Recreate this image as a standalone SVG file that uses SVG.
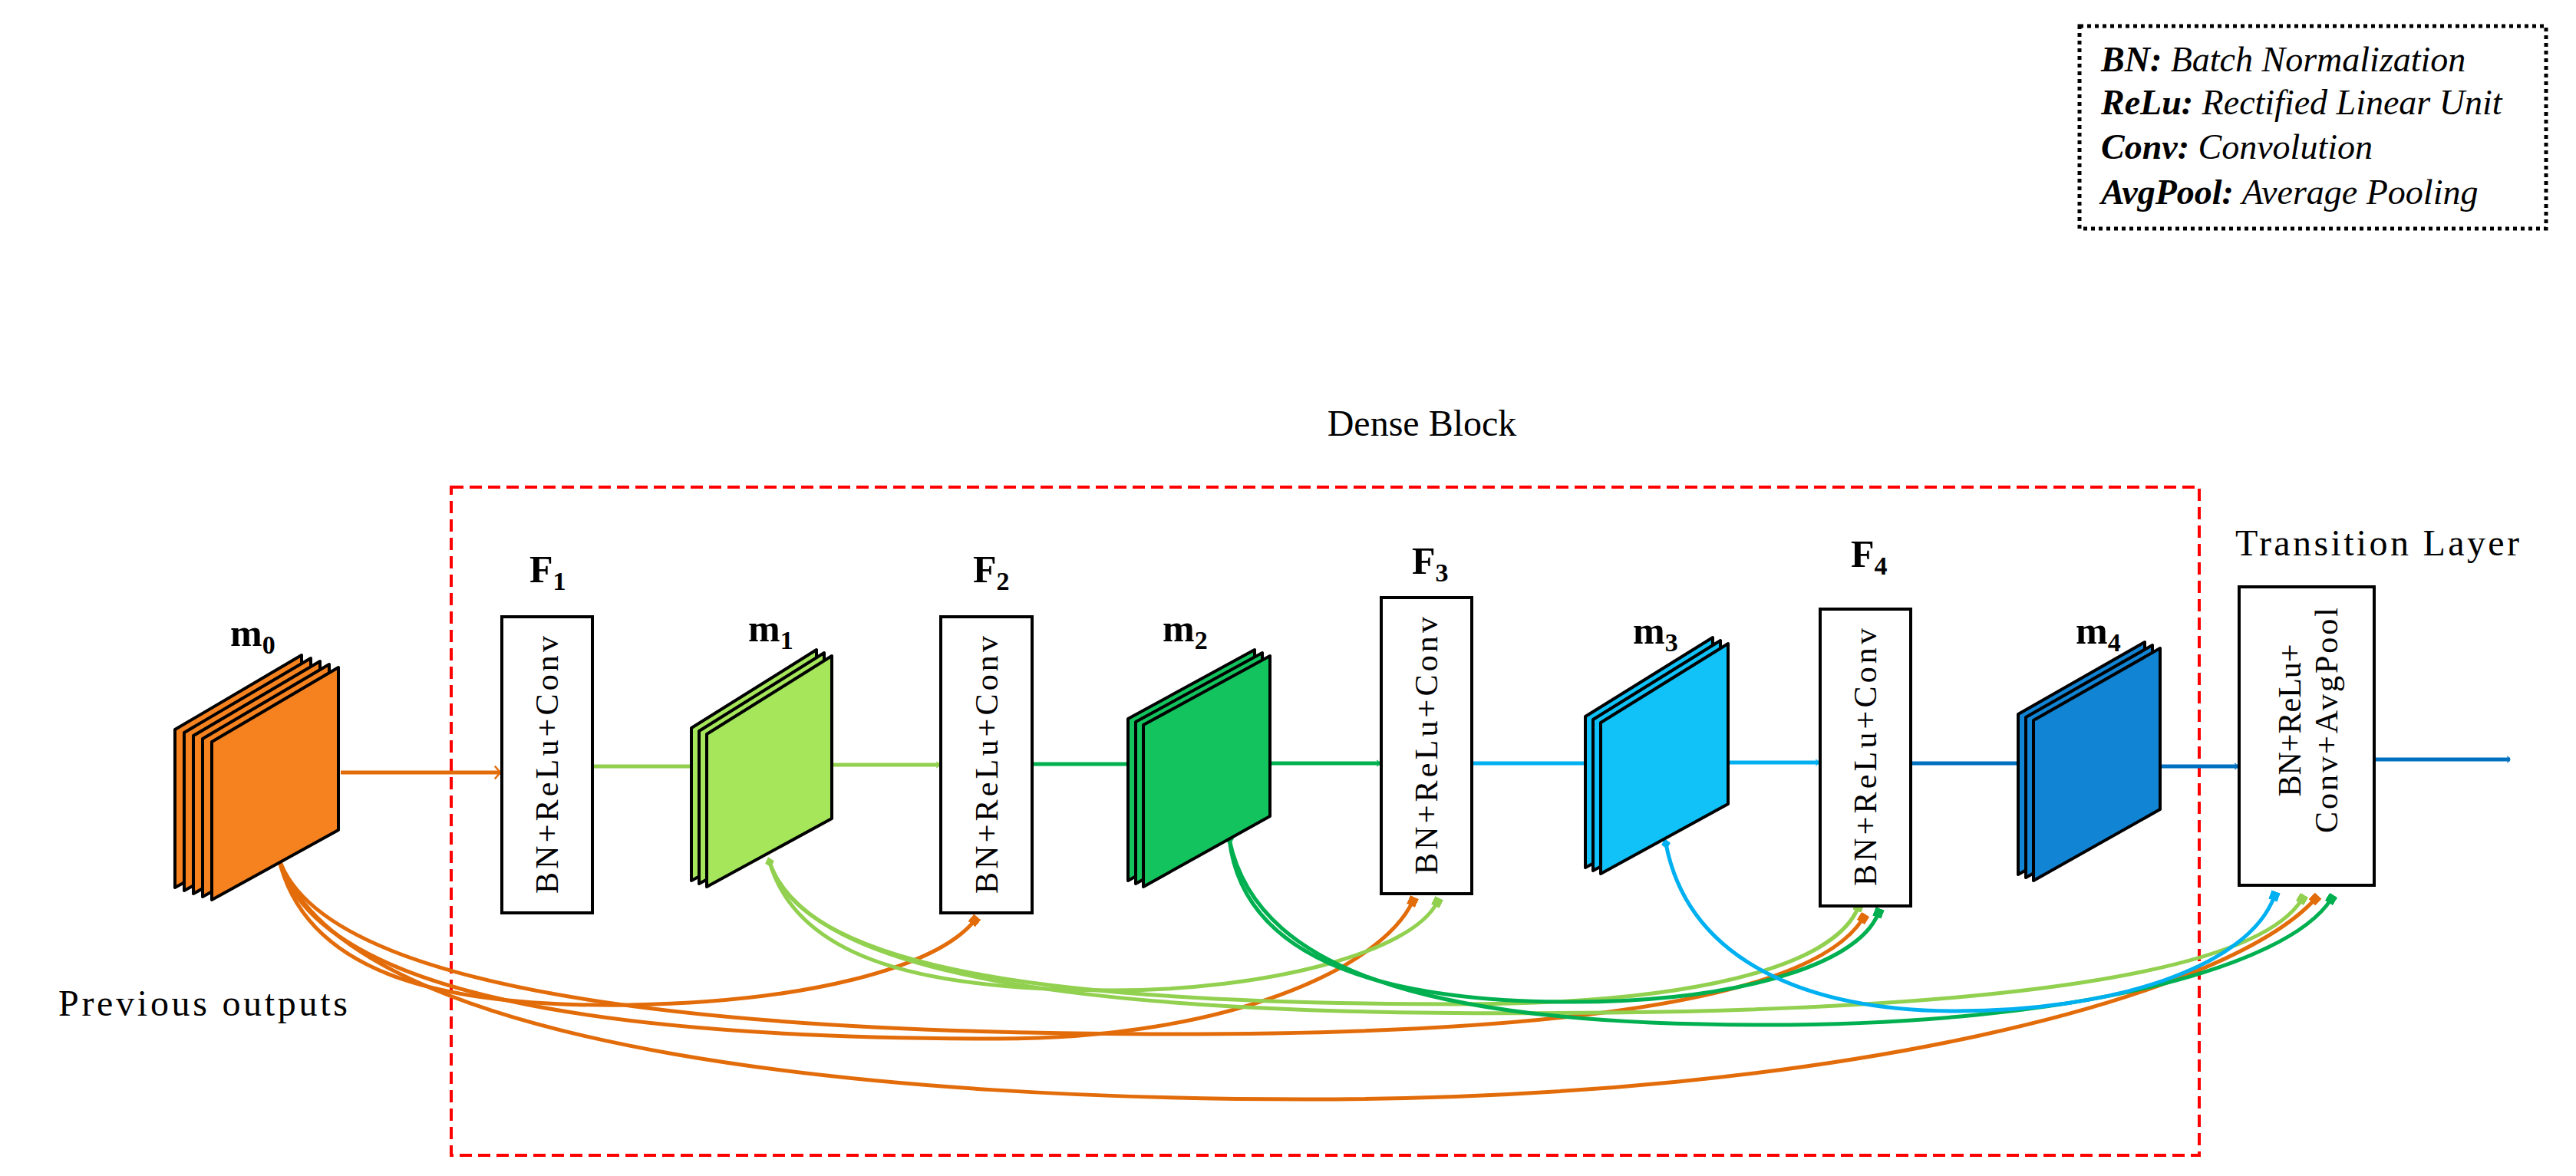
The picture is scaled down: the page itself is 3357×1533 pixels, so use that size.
<svg xmlns="http://www.w3.org/2000/svg" xmlns:xlink="http://www.w3.org/1999/xlink" width="3357" height="1533" viewBox="0 0 3357 1533">
<style>
.lbl{font-family:"Liberation Serif",serif;font-weight:bold;font-size:50px;fill:#000}
.txt{font-family:"Liberation Serif",serif;font-size:48px;fill:#000}
.box{fill:#fff;stroke:#000;stroke-width:4}
.btxt{font-family:"Liberation Serif",serif;font-size:42px;fill:#000}
.plate{stroke:#000;stroke-width:4;stroke-linejoin:round}
.c{fill:none;stroke-width:5}
.leg{font-family:"Liberation Serif",serif;font-style:italic;font-size:46px;fill:#000}
</style>
<defs>
<marker id="ao" viewBox="0 0 10 10" refX="9" refY="5" markerWidth="6" markerHeight="6" orient="auto" markerUnits="userSpaceOnUse" style="overflow:visible"><path d="M-12,-14 L0,0 L-12,14" transform="translate(9,5)" fill="none" stroke="#E36C0A" stroke-width="4"/></marker>
<marker id="alg" viewBox="0 0 10 10" refX="9" refY="5" markerUnits="userSpaceOnUse" orient="auto" style="overflow:visible"><path d="M-12,-14 L0,0 L-12,14" transform="translate(9,5)" fill="none" stroke="#92D050" stroke-width="4"/></marker>
<marker id="ag" viewBox="0 0 10 10" refX="9" refY="5" markerUnits="userSpaceOnUse" orient="auto" style="overflow:visible"><path d="M-12,-14 L0,0 L-12,14" transform="translate(9,5)" fill="none" stroke="#00B050" stroke-width="4"/></marker>
<marker id="ac" viewBox="0 0 10 10" refX="9" refY="5" markerUnits="userSpaceOnUse" orient="auto" style="overflow:visible"><path d="M-12,-14 L0,0 L-12,14" transform="translate(9,5)" fill="none" stroke="#00B0F0" stroke-width="4"/></marker>
<marker id="ab" viewBox="0 0 10 10" refX="9" refY="5" markerUnits="userSpaceOnUse" orient="auto" style="overflow:visible"><path d="M-12,-14 L0,0 L-12,14" transform="translate(9,5)" fill="none" stroke="#0070C0" stroke-width="4"/></marker>
<marker id="so" viewBox="-6 -6 12 12" markerWidth="12" markerHeight="12" markerUnits="userSpaceOnUse" orient="auto"><rect x="-6" y="-6" width="12" height="12" fill="#E36C0A"/></marker>
<marker id="slg" viewBox="-6 -6 12 12" markerWidth="12" markerHeight="12" markerUnits="userSpaceOnUse" orient="auto"><rect x="-6" y="-6" width="12" height="12" fill="#92D050"/></marker>
<marker id="sg" viewBox="-6 -6 12 12" markerWidth="12" markerHeight="12" markerUnits="userSpaceOnUse" orient="auto"><rect x="-6" y="-6" width="12" height="12" fill="#00B050"/></marker>
<marker id="sc" viewBox="-6 -6 12 12" markerWidth="12" markerHeight="12" markerUnits="userSpaceOnUse" orient="auto"><rect x="-6" y="-6" width="12" height="12" fill="#00B0F0"/></marker>
<marker id="do" viewBox="-7 -7 14 14" markerWidth="14" markerHeight="14" markerUnits="userSpaceOnUse" orient="auto"><path d="M-7,0 L0,-6 L7,0 L0,6Z" fill="#E36C0A"/></marker>
<marker id="dlg" viewBox="-7 -7 14 14" markerWidth="14" markerHeight="14" markerUnits="userSpaceOnUse" orient="auto"><path d="M-7,0 L0,-6 L7,0 L0,6Z" fill="#92D050"/></marker>
<marker id="dg" viewBox="-7 -7 14 14" markerWidth="14" markerHeight="14" markerUnits="userSpaceOnUse" orient="auto"><path d="M-7,0 L0,-6 L7,0 L0,6Z" fill="#00B050"/></marker>
<marker id="dc" viewBox="-7 -7 14 14" markerWidth="14" markerHeight="14" markerUnits="userSpaceOnUse" orient="auto"><path d="M-7,0 L0,-6 L7,0 L0,6Z" fill="#00B0F0"/></marker>
</defs>
<rect width="3357" height="1533" fill="#fff"/>

<g id="legend">
<rect x="2710" y="34" width="608" height="264" fill="none" stroke="#000" stroke-width="5" stroke-dasharray="5,5"/>
<text class="leg" x="2738" y="93"><tspan font-weight="bold">BN:</tspan> Batch Normalization</text>
<text class="leg" x="2738" y="149"><tspan font-weight="bold">ReLu:</tspan> Rectified Linear Unit</text>
<text class="leg" x="2738" y="207"><tspan font-weight="bold">Conv:</tspan> Convolution</text>
<text class="leg" x="2738" y="266"><tspan font-weight="bold">AvgPool:</tspan> Average Pooling</text>
</g>

<g id="dense-block">
<rect x="588" y="635" width="2278" height="871" fill="none" stroke="#FF0000" stroke-width="4" stroke-dasharray="16,8"/>
<text class="txt" x="1853" y="568" text-anchor="middle">Dense Block</text>
</g>

<g id="connectors">
<line x1="444" y1="1007" x2="652" y2="1007" class="c" stroke="#E36C0A" marker-end="url(#ao)"/>
<line x1="772" y1="999" x2="921" y2="999" class="c" stroke="#92D050"/>
<line x1="1084" y1="997" x2="1224" y2="997" class="c" stroke="#92D050" marker-end="url(#alg)"/>
<line x1="1345" y1="996" x2="1490" y2="996" class="c" stroke="#00B050"/>
<line x1="1655" y1="995" x2="1798" y2="995" class="c" stroke="#00B050" marker-end="url(#ag)"/>
<line x1="1918" y1="995" x2="2086" y2="995" class="c" stroke="#00B0F0"/>
<line x1="2252" y1="994" x2="2370" y2="994" class="c" stroke="#00B0F0" marker-end="url(#ac)"/>
<line x1="2490" y1="995" x2="2650" y2="995" class="c" stroke="#0070C0"/>
<line x1="2815" y1="999" x2="2916" y2="999" class="c" stroke="#0070C0" marker-end="url(#ab)"/>
<line x1="3094" y1="990" x2="3271" y2="990" class="c" stroke="#0070C0" marker-end="url(#ab)"/>

<path class="c" stroke="#E36C0A" marker-start="url(#do)" marker-end="url(#so)" d="M363,1118 C400,1280 600,1313 820,1310 C1050,1306 1220,1262 1270,1200"/>
<path class="c" stroke="#E36C0A" marker-end="url(#so)" d="M363,1118 C410,1300 800,1354 1300,1354 C1600,1354 1800,1262 1841,1175"/>
<path class="c" stroke="#E36C0A" marker-end="url(#so)" d="M363,1118 C420,1290 900,1346 1500,1348 C2100,1350 2370,1290 2428,1197"/>
<path class="c" stroke="#E36C0A" marker-end="url(#so)" d="M363,1118 C450,1380 1200,1433 1700,1433 C2400,1433 2900,1300 3017,1172"/>

<path class="c" stroke="#92D050" marker-start="url(#dlg)" marker-end="url(#slg)" d="M1003,1124 C1040,1250 1200,1291 1450,1291 C1650,1291 1840,1242 1873,1176"/>
<path class="c" stroke="#92D050" marker-end="url(#slg)" d="M1003,1124 C1050,1270 1400,1309 1900,1309 C2200,1309 2390,1262 2422,1182"/>
<path class="c" stroke="#92D050" marker-end="url(#slg)" d="M1003,1124 C1060,1290 1500,1327 2100,1320 C2600,1314 2940,1270 3000,1172"/>

<path class="c" stroke="#00B050" marker-start="url(#dg)" marker-end="url(#sg)" d="M1602,1094 C1620,1250 1800,1306 2050,1306 C2250,1306 2420,1262 2448,1190"/>
<path class="c" stroke="#00B050" marker-end="url(#sg)" d="M1602,1094 C1640,1280 1900,1336 2300,1336 C2700,1336 2980,1262 3038,1172"/>

<path class="c" stroke="#00B0F0" marker-start="url(#dc)" marker-end="url(#sc)" d="M2171,1100 C2200,1250 2350,1318 2550,1318 C2750,1318 2930,1262 2964,1168"/>
</g>

<g id="m0">
<polygon class="plate" fill="#F5821F" points="228,951 393,854 393,1066 228,1157"/>
<polygon class="plate" fill="#F5821F" points="240,955 405,858 405,1070 240,1161"/>
<polygon class="plate" fill="#F5821F" points="252,959 417,862 417,1074 252,1165"/>
<polygon class="plate" fill="#F5821F" points="264,963 429,866 429,1078 264,1169"/>
<polygon class="plate" fill="#F5821F" points="276,967 441,870 441,1082 276,1173"/>
<text class="lbl" x="300" y="842">m<tspan font-size="34" dy="10">0</tspan></text>
</g>

<g id="F1">
<text class="lbl" x="690" y="759">F<tspan font-size="34" dy="10">1</tspan></text>
<rect class="box" x="654" y="804" width="118" height="386"/>
<text class="btxt" transform="translate(727,997) rotate(-90)" text-anchor="middle" textLength="336">BN+ReLu+Conv</text>
</g>

<g id="m1">
<polygon class="plate" fill="#A5E65A" points="901,949 1064,847 1064,1059 901,1148"/>
<polygon class="plate" fill="#A5E65A" points="911,953 1074,851 1074,1063 911,1152"/>
<polygon class="plate" fill="#A5E65A" points="921,957 1084,855 1084,1067 921,1156"/>
<text class="lbl" x="975" y="836">m<tspan font-size="34" dy="10">1</tspan></text>
</g>

<g id="F2">
<text class="lbl" x="1268" y="759">F<tspan font-size="34" dy="10">2</tspan></text>
<rect class="box" x="1226" y="804" width="119" height="386"/>
<text class="btxt" transform="translate(1300,997) rotate(-90)" text-anchor="middle" textLength="336">BN+ReLu+Conv</text>
</g>

<g id="m2">
<polygon class="plate" fill="#13C45E" points="1470,937 1635,847 1635,1056 1470,1148"/>
<polygon class="plate" fill="#13C45E" points="1480,941 1645,851 1645,1060 1480,1152"/>
<polygon class="plate" fill="#13C45E" points="1490,945 1655,855 1655,1064 1490,1156"/>
<text class="lbl" x="1515" y="836">m<tspan font-size="34" dy="10">2</tspan></text>
</g>

<g id="F3">
<text class="lbl" x="1840" y="748">F<tspan font-size="34" dy="10">3</tspan></text>
<rect class="box" x="1800" y="779" width="118" height="386"/>
<text class="btxt" transform="translate(1873,972) rotate(-90)" text-anchor="middle" textLength="336">BN+ReLu+Conv</text>
</g>

<g id="m3">
<polygon class="plate" fill="#10C2F7" points="2066,934 2232,831 2232,1040 2066,1131"/>
<polygon class="plate" fill="#10C2F7" points="2076,938 2242,835 2242,1044 2076,1135"/>
<polygon class="plate" fill="#10C2F7" points="2086,942 2252,839 2252,1048 2086,1139"/>
<text class="lbl" x="2128" y="839">m<tspan font-size="34" dy="10">3</tspan></text>
</g>

<g id="F4">
<text class="lbl" x="2412" y="739">F<tspan font-size="34" dy="10">4</tspan></text>
<rect class="box" x="2372" y="794" width="118" height="387"/>
<text class="btxt" transform="translate(2445,987) rotate(-90)" text-anchor="middle" textLength="336">BN+ReLu+Conv</text>
</g>

<g id="m4">
<polygon class="plate" fill="#1184D4" points="2630,931 2795,837 2795,1047 2630,1140"/>
<polygon class="plate" fill="#1184D4" points="2640,935 2805,841 2805,1051 2640,1144"/>
<polygon class="plate" fill="#1184D4" points="2650,939 2815,845 2815,1055 2650,1148"/>
<text class="lbl" x="2705" y="839">m<tspan font-size="34" dy="10">4</tspan></text>
</g>

<g id="transition">
<text class="txt" x="3098" y="724" text-anchor="middle" textLength="370">Transition Layer</text>
<rect class="box" x="2918" y="765" width="176" height="389"/>
<text class="btxt" transform="translate(2998,939) rotate(-90)" text-anchor="middle">BN+ReLu+</text>
<text class="btxt" transform="translate(3046,939) rotate(-90)" text-anchor="middle" textLength="294">Conv+AvgPool</text>
</g>

<g id="previous">
<text class="txt" x="76" y="1324" textLength="377">Previous outputs</text>
</g>
</svg>
